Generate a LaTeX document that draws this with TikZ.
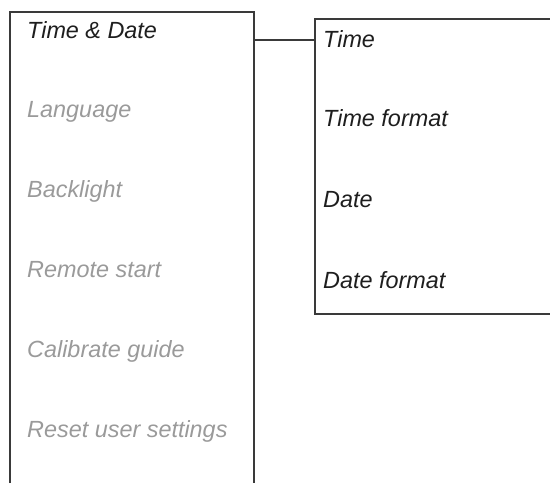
\documentclass[tikz,border=0pt]{standalone}
\usepackage{fontspec}
\setmainfont{Liberation Sans}
\usetikzlibrary{positioning}
\definecolor{menugrey}{HTML}{9A9A9A}
\definecolor{menuink}{HTML}{1E1E1E}
\definecolor{frame}{HTML}{3A3A3A}

\begin{document}
\begin{tikzpicture}[
    x=1pt, y=-1pt,
    item/.style={anchor=base west, inner sep=0pt, font=\fontsize{23.4}{26}\selectfont\itshape},
    active/.style={item, text=menuink},
    inactive/.style={item, text=menugrey},
    panel/.style={draw=frame, line width=1.2pt}
]
\useasboundingbox (0,0) rectangle (550,483);
% main menu
\draw[panel] (10,483) -- (10,12) -- (254,12) -- (254,483);
\node[active]   (time)   at (27,38)  {Time \& Date};
\node[inactive] (lang)   at (27,117) {Language};
\node[inactive] (back)   at (27,197) {Backlight};
\node[inactive] (remote) at (27,277) {Remote start};
\node[inactive] (calib)  at (27,357) {Calibrate guide};
\node[inactive] (reset)  at (27,437) {Reset user settings};
% sub menu
\draw[panel] (552,19) -- (315,19) -- (315,314) -- (552,314);
\node[active] (clock)   at (323,47)  {Time};
\node[active] (clockf)  at (323,126) {Time format};
\node[active] (date)    at (323,207) {Date};
\node[active] (datef)   at (323,288) {Date format};
% link
\coordinate (menuout) at (254,40);
\coordinate (subin)   at (315,40);
\draw[panel] (menuout) -- (subin);
\end{tikzpicture}
\end{document}
